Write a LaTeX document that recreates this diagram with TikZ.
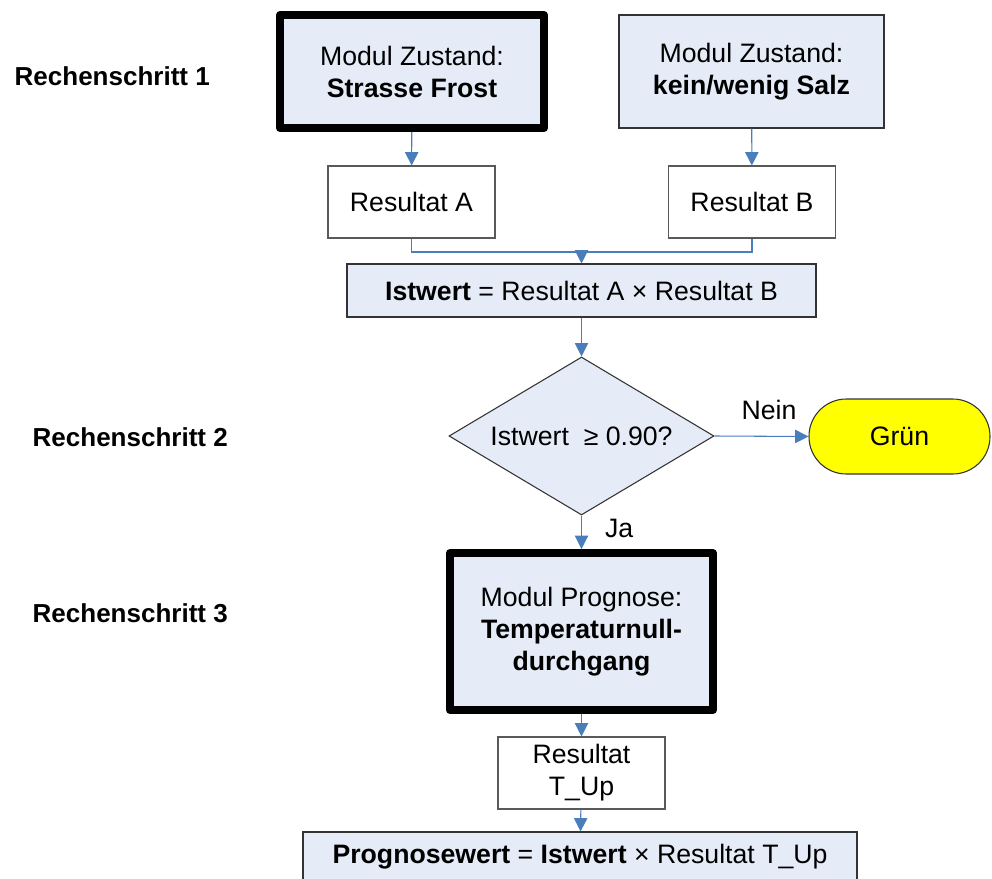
\documentclass[tikz,border=0pt]{standalone}
\usepackage{fontspec}
\setmainfont{Liberation Sans}
\usepackage{tikz}
\usetikzlibrary {arrows.meta,shapes.geometric}
\definecolor{boxblue}{RGB}{230,236,247}
\definecolor{linkblue}{RGB}{74,126,187}
\definecolor{signalyellow}{RGB}{255,255,0}

\tikzset{
  module/.style = {draw, line width=6pt, line join=round, fill=boxblue, align=center, inner sep=0pt},
  plainmodule/.style = {draw=black!80, line width=0.8pt, fill=boxblue, align=center, inner sep=0pt},
  result/.style = {draw=black!65, line width=0.8pt, fill=white, align=center, inner sep=0pt},
  link/.style = {draw=linkblue, line width=0.8pt, -{Triangle[length=10pt,width=10pt]}},
  joint/.style = {draw=linkblue, line width=0.8pt},
  steplabel/.style = {anchor=west, font=\fontsize{19.5}{24}\selectfont\bfseries},
}

\begin{document}
\begin{tikzpicture}[x=0.75pt, y=-0.75pt, font=\fontsize{20}{24}\selectfont]
\useasboundingbox (0,0) rectangle (992,878);

\node (step1) at (10,76) [steplabel]{Rechenschritt 1};
\node (step2) at (28,437) [steplabel]{Rechenschritt 2};
\node (step3) at (28,613) [steplabel]{Rechenschritt 3};

\node (frost) at (412,71.5) [module, minimum width=198pt, minimum height=84.75pt]{Modul Zustand:\\\textbf{Strasse Frost}};
\node (salz) at (751.5,71.5) [plainmodule, minimum width=198.75pt, minimum height=84.75pt]{Modul Zustand:\\\textbf{kein/wenig Salz}};

\node (resA) at (411.5,202) [result, minimum width=125.25pt, minimum height=54pt]{Resultat A};
\node (resB) at (752,202) [result, minimum width=125.25pt, minimum height=54pt]{Resultat B};

\node (istwert) at (581.5,290.5) [plainmodule, minimum width=351.75pt, minimum height=39.75pt]{\textbf{Istwert} = Resultat A × Resultat B};

% the text box is kept flat so that the diamond takes its size from the minimum values
\node (check) at (581.5,436) [diamond, plainmodule, minimum width=198.75pt, minimum height=118.5pt]{\makebox[0pt]{Istwert\ \ ≥ 0.90?}};
\node (gruen) at (899.5,436.5) [draw=black!80, line width=0.8pt, fill=signalyellow, rounded corners=28pt, inner sep=0pt, minimum width=135.75pt, minimum height=56.25pt]{Grün};

\node (prognose) at (581.5,631.5) [module, minimum width=197.25pt, minimum height=117.75pt]{Modul Prognose:\\\textbf{Temperaturnull-}\\\textbf{durchgang}};
\node (resT) at (581.5,773) [result, minimum width=125.25pt, minimum height=54pt]{Resultat\\T\_Up};
\node (prognosewert) at (580,857) [plainmodule, minimum width=415.5pt, minimum height=37.5pt]{\textbf{Prognosewert} = \textbf{Istwert} × Resultat T\_Up};

\coordinate (merge) at (581.5,252);

\draw [link] (frost) -- (resA);
\draw [link] (salz) -- (resB);
\draw [joint] (resA.south) |- (merge) -| (resB.south);
\draw [link] (merge) -- (istwert);
\draw [link] (istwert) -- (check);
\draw [link] (check.east) -- node[above=9pt, pos=0.58] (nein) {Nein} (gruen.west);
\draw [link] (check.south) -- node[right=14pt, pos=0.4] (ja) {Ja} (prognose.north);
\draw [link] (prognose) -- (resT);
\draw [link] (resT) -- (prognosewert);

\end{tikzpicture}
\end{document}
